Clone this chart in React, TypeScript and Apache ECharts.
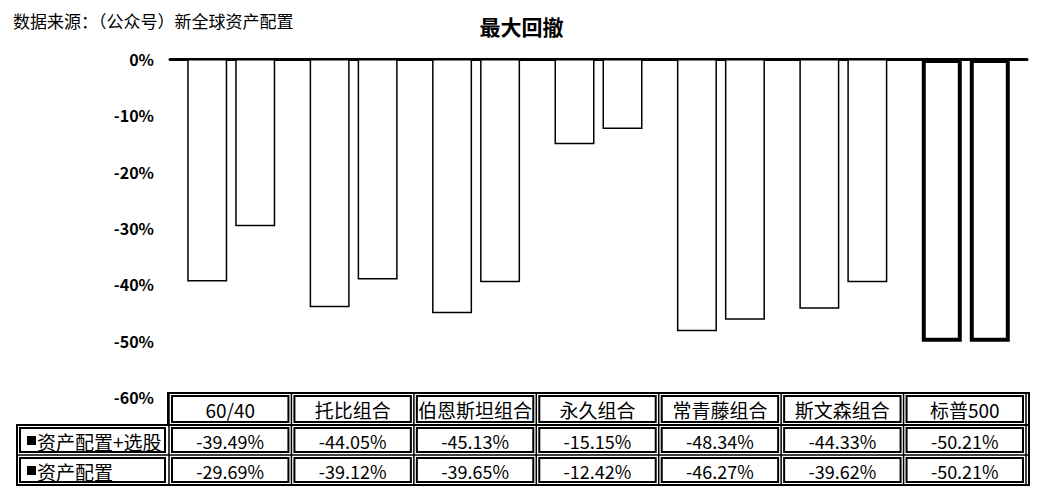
import React, { useEffect, useRef } from "react";
import * as echarts from "echarts";

const categories = ["60/40", "托比组合", "伯恩斯坦组合", "永久组合", "常青藤组合", "斯文森组合", "标普500"];
const seriesNames = ["资产配置+选股", "资产配置"];
const allocPlusStock = [-39.49, -44.05, -45.13, -15.15, -48.34, -44.33, -50.21];
const allocOnly = [-29.69, -39.12, -39.65, -12.42, -46.27, -39.62, -50.21];
const titleText = "最大回撤";
const sourceText = "数据来源：（公众号）新全球资产配置";

const W = 1043;
const H = 489;
const GRID_LEFT = 170;
const GRID_RIGHT = 16;
const GRID_TOP = 59;
const GRID_BOTTOM = 92;
const FONT = "'Noto Sans CJK SC', 'Noto Sans', sans-serif";

function buildTable(): any[] {
  const els: any[] = [];
  const plotW = W - GRID_LEFT - GRID_RIGHT;
  const colW = plotW / categories.length;
  const tableRight = GRID_LEFT + plotW + 2;
  const headerTop = 393;
  const rowH = 30;
  const labelLeft = 17;
  const rowsTop = headerTop + 32;
  els.push({
    type: "rect",
    shape: { x: GRID_LEFT - 2, y: headerTop, width: tableRight - GRID_LEFT + 2, height: 32 },
    style: { fill: "#fff", stroke: "#000", lineWidth: 2 },
  });
  els.push({
    type: "rect",
    shape: { x: labelLeft, y: rowsTop, width: tableRight - labelLeft, height: rowH * 2 },
    style: { fill: "#fff", stroke: "#000", lineWidth: 2 },
  });
  els.push({
    type: "line",
    shape: { x1: labelLeft, y1: rowsTop + rowH, x2: tableRight, y2: rowsTop + rowH },
    style: { stroke: "#000", lineWidth: 1.5 },
  });
  for (let c = 0; c <= categories.length; c++) {
    const x = GRID_LEFT - 1 + c * colW;
    els.push({
      type: "line",
      shape: { x1: x, y1: headerTop, x2: x, y2: rowsTop + rowH * 2 },
      style: { stroke: "#000", lineWidth: 1.5 },
    });
  }
  const rowsData = [allocPlusStock, allocOnly];
  categories.forEach((cat, c) => {
    const x0 = GRID_LEFT - 1 + c * colW;
    els.push({
      type: "rect",
      shape: { x: x0 + 3, y: headerTop + 3, width: colW - 6, height: 26 },
      style: { fill: "#fff", stroke: "#000", lineWidth: 2 },
    });
    els.push({
      type: "text",
      x: x0 + colW / 2,
      y: headerTop + 16,
      style: { text: cat, fill: "#000", font: `19px ${FONT}`, align: "center", verticalAlign: "middle" },
    });
    rowsData.forEach((arr, r) => {
      const y0 = rowsTop + r * rowH;
      els.push({
        type: "rect",
        shape: { x: x0 + 3, y: y0 + 3, width: colW - 6, height: rowH - 6 },
        style: { fill: "#fff", stroke: "#000", lineWidth: 2 },
      });
      els.push({
        type: "text",
        x: x0 + colW / 2,
        y: y0 + rowH / 2 + 1,
        style: {
          text: arr[c].toFixed(2) + "%",
          fill: "#000",
          font: `18px ${FONT}`,
          align: "center",
          verticalAlign: "middle",
        },
      });
    });
  });
  seriesNames.forEach((name, r) => {
    const y0 = rowsTop + r * rowH;
    els.push({
      type: "rect",
      shape: { x: labelLeft + 3, y: y0 + 3, width: GRID_LEFT - labelLeft - 8, height: rowH - 6 },
      style: { fill: "#fff", stroke: "#000", lineWidth: 2 },
    });
    els.push({
      type: "rect",
      shape: { x: 27, y: y0 + 11, width: 9, height: 9 },
      style: { fill: "#000" },
    });
    els.push({
      type: "text",
      x: 37,
      y: y0 + rowH / 2 + 1,
      style: { text: name, fill: "#000", font: `19px ${FONT}`, align: "left", verticalAlign: "middle" },
    });
  });
  return els;
}

export default function App() {
  const ref = useRef<HTMLDivElement>(null);
  useEffect(() => {
    document.body.style.margin = "0";
    document.body.style.background = "#fff";
    const chart = echarts.init(ref.current!, null, { renderer: "svg" });
    const lastIdx = categories.length - 1;
    const mkData = (arr: number[]) =>
      arr.map((v, i) =>
        i === lastIdx ? { value: v, itemStyle: { borderWidth: 4 } } : { value: v }
      );
    chart.setOption({
      animation: false,
      backgroundColor: "#fff",
      title: [
        {
          text: titleText,
          left: "center",
          top: 10,
          textStyle: { fontFamily: FONT, fontSize: 21, fontWeight: "bold", color: "#000" },
        },
        {
          text: sourceText,
          left: 8,
          top: 7,
          textStyle: { fontFamily: FONT, fontSize: 17, fontWeight: "normal", color: "#000" },
        },
      ],
      grid: { left: GRID_LEFT, right: GRID_RIGHT, top: GRID_TOP, bottom: GRID_BOTTOM, containLabel: false },
      xAxis: {
        type: "category",
        data: categories,
        axisLine: { show: true, onZero: true, lineStyle: { color: "#000", width: 3 } },
        axisTick: { show: false },
        axisLabel: { show: false },
      },
      yAxis: {
        type: "value",
        min: -60,
        max: 0,
        interval: 10,
        axisLine: { show: false },
        axisTick: { show: false },
        splitLine: { show: false },
        axisLabel: {
          formatter: (v: number) => `${v}%`,
          color: "#000",
          fontFamily: FONT,
          fontSize: 16,
          fontWeight: "bold",
          margin: 16,
        },
      },
      series: [
        {
          name: seriesNames[0],
          type: "bar",
          data: mkData(allocPlusStock),
          barWidth: 40,
          barGap: "20%",
          itemStyle: { color: "#fff", borderColor: "#000", borderWidth: 1.5 },
        },
        {
          name: seriesNames[1],
          type: "bar",
          data: mkData(allocOnly),
          barWidth: 40,
          barGap: "20%",
          itemStyle: { color: "#fff", borderColor: "#000", borderWidth: 1.5 },
        },
      ],
      graphic: buildTable(),
    });
    return () => chart.dispose();
  }, []);
  return <div ref={ref} style={{ width: W, height: H }} />;
}
